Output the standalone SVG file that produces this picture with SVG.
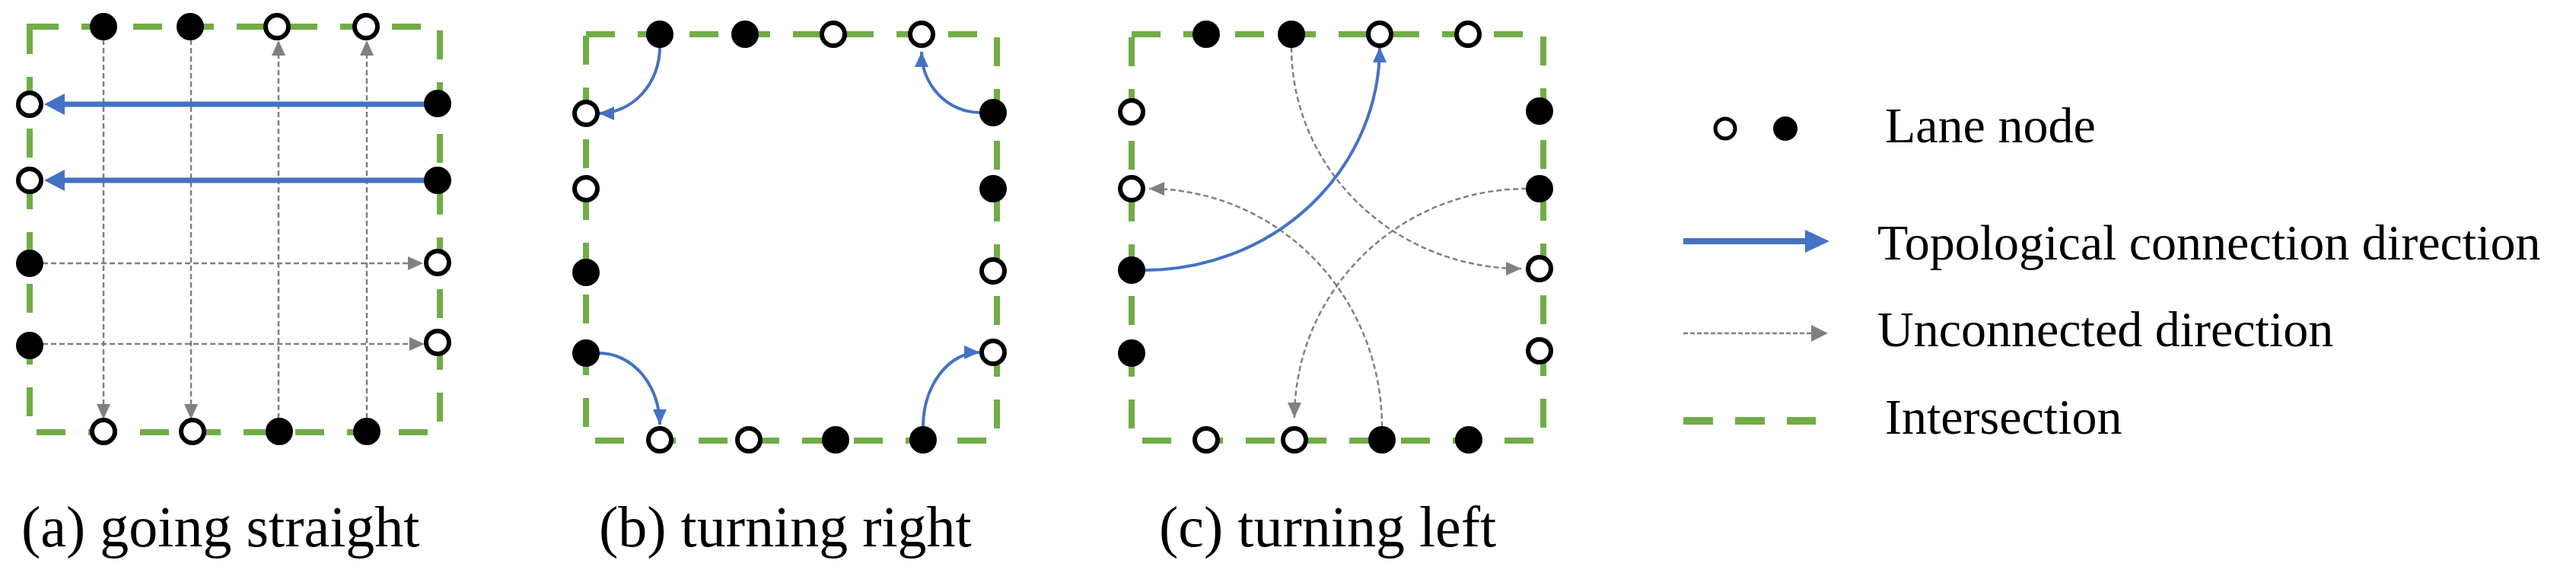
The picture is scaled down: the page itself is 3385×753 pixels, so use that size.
<svg xmlns="http://www.w3.org/2000/svg" width="3385" height="753" viewBox="0 0 3385 753">
<style>
.box{fill:none;stroke:#70ad47;stroke-width:8;stroke-dasharray:38 30}
.o{fill:#fff;stroke:#000;stroke-width:6}
.f{fill:#000}
.bl{fill:none;stroke:#4472c4;stroke-width:7}
.bc{fill:none;stroke:#4472c4;stroke-width:4}
.gr{fill:none;stroke:#808080;stroke-width:2.5;stroke-dasharray:7 4}
.lab{font-family:"Liberation Serif","Times New Roman",serif;font-size:76px;fill:#000}
.leg{font-family:"Liberation Serif","Times New Roman",serif;font-size:66px;fill:#000}
</style>
<defs>
<marker id="mB" markerUnits="userSpaceOnUse" markerWidth="28" markerHeight="28" refX="0" refY="14" orient="auto"><path d="M0,0 L27,14 L0,28 z" fill="#4472c4"/></marker>
<marker id="mBs" markerUnits="userSpaceOnUse" markerWidth="20" markerHeight="20" refX="20" refY="10" orient="auto"><path d="M0,1 L20,10 L0,19 z" fill="#4472c4"/></marker>
<marker id="mG" markerUnits="userSpaceOnUse" markerWidth="20" markerHeight="20" refX="0" refY="10" orient="auto"><path d="M0,1 L20,10 L0,19 z" fill="#808080"/></marker>
<marker id="mGt" markerUnits="userSpaceOnUse" markerWidth="20" markerHeight="20" refX="20" refY="10" orient="auto"><path d="M0,1 L20,10 L0,19 z" fill="#808080"/></marker>
</defs>
<rect width="3385" height="753" fill="#fff"/>

<g id="intersections">
<rect class="box" x="39" y="35" width="539" height="533"/>
<rect class="box" x="770" y="45" width="540" height="534"/>
<rect class="box" x="1487" y="45" width="541" height="534"/>
</g>

<g id="connectors">
<!-- (a) -->
<path class="gr" d="M136,52 L136,531" marker-end="url(#mG)"/>
<path class="gr" d="M251,52 L251,531" marker-end="url(#mG)"/>
<path class="gr" d="M366,550 L366,73" marker-end="url(#mG)"/>
<path class="gr" d="M482,550 L482,73" marker-end="url(#mG)"/>
<path class="gr" d="M56,346 L536,346" marker-end="url(#mG)"/>
<path class="gr" d="M56,452 L538,452" marker-end="url(#mG)"/>
<path class="bl" d="M575,137 L85,137" marker-end="url(#mB)"/>
<path class="bl" d="M575,237 L85,237" marker-end="url(#mB)"/>
<!-- (b) -->
<path class="bc" d="M867,62 A80,87 0 0 1 787,149" marker-end="url(#mBs)"/>
<path class="bc" d="M1288,148 A77,80 0 0 1 1211,68" marker-end="url(#mBs)"/>
<path class="bc" d="M787,464 A80,94 0 0 1 867,558" marker-end="url(#mBs)"/>
<path class="bc" d="M1213,561 A74,98 0 0 1 1287,463" marker-end="url(#mBs)"/>
<!-- (c) -->
<path class="gr" d="M1697,62 A302,291 0 0 0 1999,353" marker-end="url(#mGt)"/>
<path class="gr" d="M2006,248 A305,301 0 0 0 1701,549" marker-end="url(#mGt)"/>
<path class="gr" d="M1816,561 A306,313 0 0 0 1510,248" marker-end="url(#mGt)"/>
<path class="bc" d="M1504,355 A309,293 0 0 0 1813,62" marker-end="url(#mBs)"/>
</g>

<g id="nodes-a">
<circle class="f" cx="136" cy="35" r="18"/><circle class="f" cx="250" cy="35" r="18"/>
<circle class="o" cx="364" cy="35" r="15"/><circle class="o" cx="481" cy="35" r="15"/>
<circle class="o" cx="39" cy="137" r="15"/><circle class="o" cx="39" cy="237" r="15"/>
<circle class="f" cx="39" cy="346" r="18"/><circle class="f" cx="39" cy="454" r="18"/>
<circle class="f" cx="575" cy="136" r="18"/><circle class="f" cx="575" cy="237" r="18"/>
<circle class="o" cx="575" cy="345" r="15"/><circle class="o" cx="575" cy="450" r="15"/>
<circle class="o" cx="136" cy="567" r="15"/><circle class="o" cx="253" cy="567" r="15"/>
<circle class="f" cx="367" cy="567" r="18"/><circle class="f" cx="482" cy="567" r="18"/>
</g>
<g id="nodes-b">
<circle class="f" cx="867" cy="45" r="18"/><circle class="f" cx="979" cy="45" r="18"/>
<circle class="o" cx="1095" cy="45" r="15"/><circle class="o" cx="1211" cy="45" r="15"/>
<circle class="o" cx="770" cy="149" r="15"/><circle class="o" cx="770" cy="248" r="15"/>
<circle class="f" cx="770" cy="358" r="18"/><circle class="f" cx="770" cy="464" r="18"/>
<circle class="f" cx="1305" cy="148" r="18"/><circle class="f" cx="1305" cy="248" r="18"/>
<circle class="o" cx="1305" cy="356" r="15"/><circle class="o" cx="1305" cy="463" r="15"/>
<circle class="o" cx="867" cy="578" r="15"/><circle class="o" cx="984" cy="578" r="15"/>
<circle class="f" cx="1098" cy="578" r="18"/><circle class="f" cx="1213" cy="578" r="18"/>
</g>
<g id="nodes-c">
<circle class="f" cx="1585" cy="45" r="18"/><circle class="f" cx="1697" cy="45" r="18"/>
<circle class="o" cx="1813" cy="45" r="15"/><circle class="o" cx="1929" cy="45" r="15"/>
<circle class="o" cx="1487" cy="147" r="15"/><circle class="o" cx="1487" cy="248" r="15"/>
<circle class="f" cx="1487" cy="355" r="18"/><circle class="f" cx="1487" cy="464" r="18"/>
<circle class="f" cx="2023" cy="146" r="18"/><circle class="f" cx="2023" cy="248" r="18"/>
<circle class="o" cx="2023" cy="353" r="15"/><circle class="o" cx="2023" cy="461" r="15"/>
<circle class="o" cx="1585" cy="578" r="15"/><circle class="o" cx="1701" cy="578" r="15"/>
<circle class="f" cx="1816" cy="578" r="18"/><circle class="f" cx="1930" cy="578" r="18"/>
</g>

<g id="captions">
<text class="lab" x="28" y="718">(a) going straight</text>
<text class="lab" x="787" y="718">(b) turning right</text>
<text class="lab" x="1523" y="718">(c) turning left</text>
</g>

<g id="legend">
<circle class="o" cx="2267" cy="169" r="13" style="stroke-width:5"/>
<circle class="f" cx="2346" cy="169" r="16"/>
<text class="leg" x="2477" y="187">Lane node</text>
<path d="M2212,317 L2372,317" stroke="#4472c4" stroke-width="8" fill="none"/>
<path d="M2372,302 L2404,317 L2372,332 z" fill="#4472c4"/>
<text class="leg" x="2467" y="341">Topological connection direction</text>
<path d="M2212,438 L2380,438" stroke="#808080" stroke-width="2.5" stroke-dasharray="6 3" fill="none"/>
<path d="M2380,427 L2402,438 L2380,449 z" fill="#808080"/>
<text class="leg" x="2467" y="455">Unconnected direction</text>
<path d="M2212,553 L2386,553" stroke="#70ad47" stroke-width="10" stroke-dasharray="39 29" fill="none"/>
<text class="leg" x="2477" y="570">Intersection</text>
</g>
</svg>
